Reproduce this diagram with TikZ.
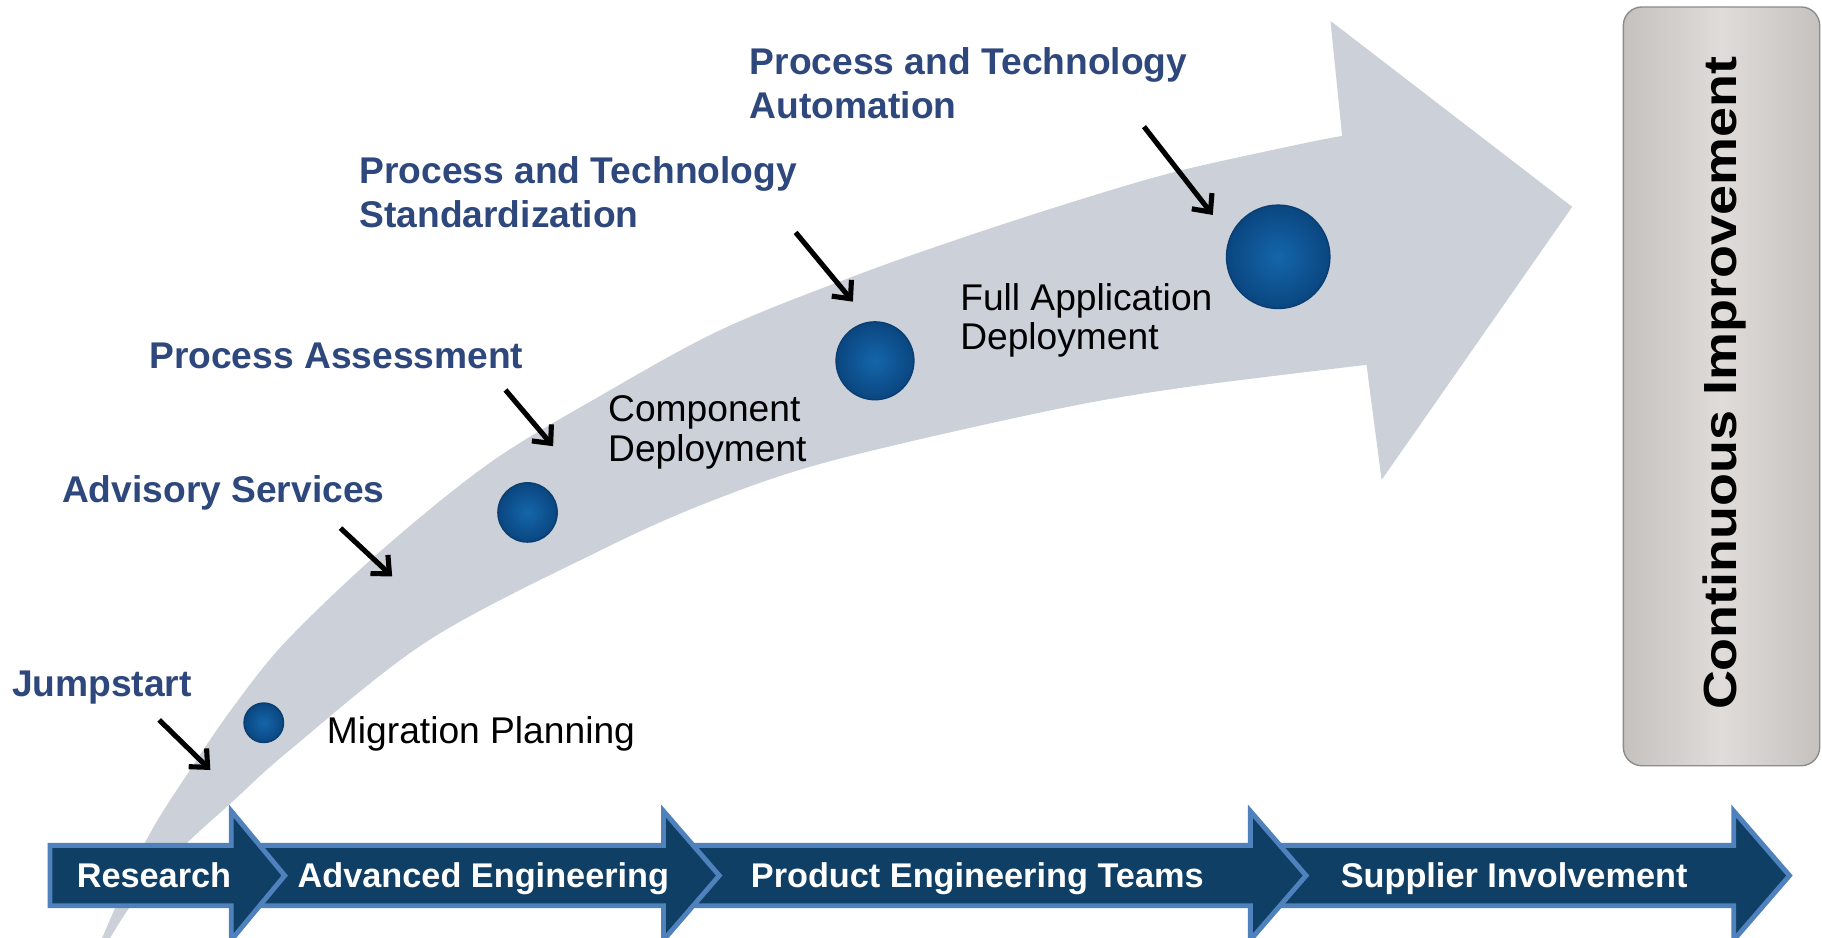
\documentclass[tikz,border=0pt]{standalone}
\usepackage{fontspec}
\setmainfont{Liberation Sans}
\newfontfamily\cifont{Liberation Sans}[FakeStretch=1.16]
\usetikzlibrary{arrows.meta}

\definecolor{bandgray}{RGB}{203,208,217}
\definecolor{labelblue}{RGB}{46,72,125}
\definecolor{stagefill}{RGB}{16,63,102}
\definecolor{stageedge}{RGB}{79,129,189}
\definecolor{ballin}{RGB}{20,102,170}
\definecolor{ballout}{RGB}{10,70,128}
\definecolor{ballrim}{RGB}{10,62,112}
\definecolor{boxedge}{RGB}{140,140,140}
\definecolor{boxmid}{RGB}{223,220,217}
\definecolor{boxside}{RGB}{196,193,190}

\tikzset{
  bluelabel/.style={inner sep=0pt, text=labelblue, font=\fontsize{16}{19}\selectfont\bfseries, align=left},
  steplabel/.style={inner sep=0pt, text=black, font=\fontsize{16}{17}\selectfont, align=left},
  stagearrow/.style={fill=stagefill, draw=stageedge, line width=2.1pt},
  stagetext/.style={inner sep=0pt, text=white, font=\fontsize{14.75}{16}\selectfont\bfseries},
  milestone/.style={circle, inner sep=0pt, inner color=ballin, outer color=ballout, draw=ballrim, line width=0.6pt},
  pointer/.style={line width=2.2pt, -{Straight Barb[length=6pt,width=11pt]}},
  cibox/.style={rounded corners=8pt, draw=boxedge, line width=0.6pt, left color=boxside, right color=boxside, middle color=boxmid, minimum width=84.5pt, minimum height=326.5pt}
}

\begin{document}
\begin{tikzpicture}[x=0.5pt, y=-0.5pt]
\useasboundingbox (0,0) rectangle (1568,807);
\fill[white] (0,0) rectangle (1568,807);

% sweeping arrow
\fill[bandgray] plot[smooth, tension=0.55] coordinates {(80,830) (88,807) (126,723) (162,665) (201,608) (247,551) (329,473) (422,398) (516,341) (620,284) (734,238) (830,204) (932,171) (1015,147) (1119,124) (1155,117)}
  -- (1145,18) -- (1353,178) -- (1189,413) -- (1176,314)
  -- plot[smooth, tension=0.55] coordinates {(1176,314) (1015,334) (900,354) (714,397) (610,432) (516,474) (369,551) (250,645) (201,689) (156,730) (123,765) (95,807) (88,830)} -- cycle;

% stage arrows, right to left
\draw[stagearrow] (1078,727.5) -- (1492,727.5) -- (1492,698) -- (1540,753.5) -- (1492,809) -- (1492,779.5) -- (1078,779.5) -- cycle;
\draw[stagearrow] (574,727.5) -- (1076,727.5) -- (1076,698) -- (1124,753.5) -- (1076,809) -- (1076,779.5) -- (574,779.5) -- cycle;
\draw[stagearrow] (201,727.5) -- (571,727.5) -- (571,698) -- (619,753.5) -- (571,809) -- (571,779.5) -- (201,779.5) -- cycle;
\draw[stagearrow] (43,727.5) -- (199,727.5) -- (199,698) -- (245,753.5) -- (199,809) -- (199,779.5) -- (43,779.5) -- cycle;
\node[stagetext, anchor=base] (research) at (132.5,763.6) {Research};
\node[stagetext, anchor=base] (adveng) at (416,763.6) {Advanced Engineering};
\node[stagetext, anchor=base] (prodeng) at (841,763.6) {Product Engineering Teams};
\node[stagetext, anchor=base] (supplier) at (1303,763.6) {Supplier Involvement};

% milestones
\node[milestone, minimum size=17pt] (m1) at (227,622) {};
\node[milestone, minimum size=25.5pt] (m2) at (454,441) {};
\node[milestone, minimum size=33.5pt] (m3) at (753,310.5) {};
\node[milestone, minimum size=44.5pt] (m4) at (1100,221) {};

\node[steplabel, anchor=base west] (migration) at (281,639.6) {Migration Planning};
\node[steplabel, anchor=base west] (component) at (523,397) {Component\\Deployment};
\node[steplabel, anchor=base west] (fullapp) at (826,301) {Full Application\\Deployment};

% phase labels
\node[bluelabel, anchor=base west] (jumpstart) at (10,599.5) {Jumpstart};
\node[bluelabel, anchor=base west] (advisory) at (53,432.6) {Advisory Services};
\node[bluelabel, anchor=base west] (assess) at (128,317) {Process Assessment};
\node[bluelabel, anchor=base west] (standard) at (309,195.6) {Process and Technology\\Standardization};
\node[bluelabel, anchor=base west] (automate) at (645,101.8) {Process and Technology\\Automation};

% pointers
\coordinate (js-from) at (137,619.6);
\coordinate (js-to) at (181,662.6);
\coordinate (as-from) at (293,454.5);
\coordinate (as-to) at (337.5,496);
\coordinate (pa-from) at (435,335.6);
\coordinate (pa-to) at (476,384);
\coordinate (st-from) at (684.7,200);
\coordinate (st-to) at (734,259.6);
\coordinate (au-from) at (984.5,109);
\coordinate (au-to) at (1043.7,185);
\draw[pointer] (js-from) -- (js-to);
\draw[pointer] (as-from) -- (as-to);
\draw[pointer] (pa-from) -- (pa-to);
\draw[pointer] (st-from) -- (st-to);
\draw[pointer] (au-from) -- (au-to);

% continuous improvement
\node[cibox] (ci) at (1481.5,332.5) {};
\node[rotate=90, anchor=base, inner sep=0pt, font=\cifont\fontsize{20}{24}\selectfont\bfseries] (citext) at (1494.6,330) {Continuous Improvement};
\end{tikzpicture}
\end{document}
